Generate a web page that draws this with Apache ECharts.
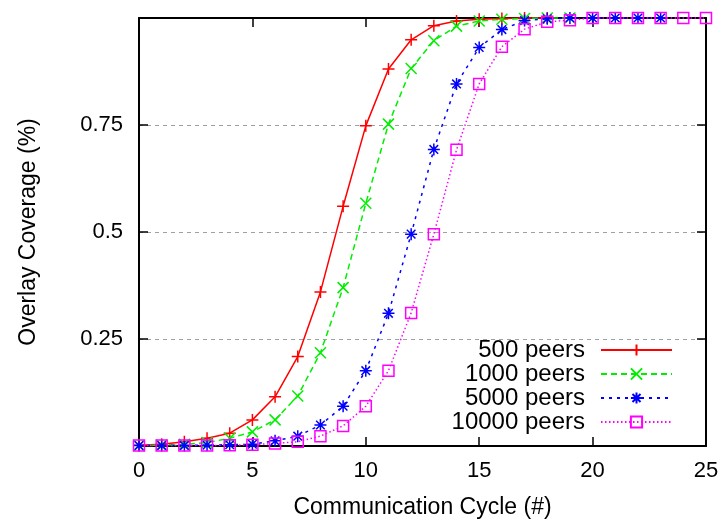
<!DOCTYPE html>
<html>
<head>
<meta charset="utf-8">
<script src="https://cdn.jsdelivr.net/npm/echarts@6/dist/echarts.min.js"></script>
<style>
  html, body { margin: 0; padding: 0; background: #fff; }
  #chart { width: 720px; height: 520px; }
</style>
</head>
<body>
<div id="chart"></div>
<script>
// communication cycles (x) and overlay coverage per network size
var cycles = [0, 1, 2, 3, 4, 5, 6, 7, 8, 9, 10, 11, 12, 13, 14, 15, 16, 17, 18, 19, 20, 21, 22, 23, 24, 25];
var peers500 = [0.002, 0.004, 0.01, 0.018, 0.03, 0.061, 0.115, 0.209, 0.36, 0.56, 0.748, 0.881, 0.949, 0.982, 0.993, 0.997, 0.999, 1, 1];
var peers1000 = [0.001, 0.002, 0.004, 0.008, 0.018, 0.033, 0.061, 0.117, 0.218, 0.37, 0.567, 0.752, 0.882, 0.947, 0.981, 0.993, 0.997, 0.999, 1, 1];
var peers5000 = [0.001, 0.001, 0.001, 0.002, 0.003, 0.004, 0.012, 0.023, 0.049, 0.093, 0.176, 0.31, 0.495, 0.693, 0.846, 0.931, 0.973, 0.994, 0.998, 1, 1, 1, 1, 1];
var peers10000 = [0.001, 0.001, 0.001, 0.001, 0.002, 0.003, 0.006, 0.01, 0.023, 0.047, 0.093, 0.176, 0.311, 0.495, 0.692, 0.846, 0.933, 0.974, 0.991, 0.995, 1, 1, 1, 1, 1, 1];
var names = ['500 peers', '1000 peers', '5000 peers', '10000 peers'];
var yTicks = [0.25, 0.5, 0.75];

var font = 'Liberation Sans';

function pairs(ys) {
    var out = [];
    for (var i = 0; i < ys.length; i++) {
        out.push([cycles[i], ys[i]]);
    }
    return out;
}

var symPlus = 'path://M0,-6L0,6M-6,0L6,0';
var symCross = 'path://M-6,-6L6,6M-6,6L6,-6';
var symStar = 'path://M0,-6L0,6M-6,0L6,0M-4.3,-4.3L4.3,4.3M-4.3,4.3L4.3,-4.3';

function makeSeries(name, ys, color, symbol, size, dash) {
    return {
        name: name,
        type: 'line',
        data: pairs(ys),
        clip: false,
        symbol: symbol,
        symbolSize: size,
        showAllSymbol: true,
        lineStyle: { color: color, width: 1.5, type: dash },
        itemStyle: { color: 'rgba(0,0,0,0)', borderColor: color, borderWidth: 1.5 },
        emphasis: { disabled: true },
        animation: false
    };
}

var tickStyle = { show: true, inside: true, length: 9, lineStyle: { color: '#000', width: 1.5 } };
var lineStyleAxis = { show: true, onZero: false, lineStyle: { color: '#000', width: 2 } };

var option = {
    backgroundColor: '#fff',
    animation: false,
    grid: { left: 139, right: 14, top: 18, bottom: 74, outerBoundsMode: 'none', containLabel: false },
    legend: {
        orient: 'vertical',
        right: 47,
        top: 338,
        padding: 0,
        align: 'right',
        itemWidth: 71,
        itemHeight: 14,
        itemGap: 0,
        data: names,
        textStyle: { fontFamily: font, fontSize: 24, color: '#000', lineHeight: 24, padding: [0, 11, 0, 0] }
    },
    xAxis: [
        {
            type: 'value', min: 0, max: 25, interval: 5,
            name: 'Communication Cycle (#)',
            nameLocation: 'middle',
            nameGap: 50,
            nameTextStyle: { fontFamily: font, fontSize: 23, color: '#000' },
            axisLine: lineStyleAxis,
            axisTick: tickStyle,
            axisLabel: { fontFamily: font, fontSize: 22, color: '#000', margin: 14 },
            splitLine: { show: false }
        },
        {
            type: 'value', min: 0, max: 25, interval: 5, position: 'top',
            axisLine: lineStyleAxis,
            axisTick: tickStyle,
            axisLabel: { show: false },
            splitLine: { show: false }
        }
    ],
    yAxis: [
        {
            type: 'value', min: 0, max: 1, interval: 0.25,
            name: 'Overlay Coverage (%)',
            nameLocation: 'middle',
            nameGap: 99,
            nameTextStyle: { fontFamily: font, fontSize: 23, color: '#000' },
            axisLine: lineStyleAxis,
            axisTick: tickStyle,
            axisLabel: {
                fontFamily: font, fontSize: 22, color: '#000', margin: 16,
                formatter: function (v) {
                    return yTicks.indexOf(v) >= 0 ? String(v) : '';
                }
            },
            splitLine: { show: true, lineStyle: { color: '#a0a0a0', width: 1, type: [4, 4] } }
        },
        {
            type: 'value', min: 0, max: 1, interval: 0.25, position: 'right',
            axisLine: lineStyleAxis,
            axisTick: tickStyle,
            axisLabel: { show: false },
            splitLine: { show: false }
        }
    ],
    series: [
        makeSeries(names[0], peers500, '#ff0000', symPlus, 12, 'solid'),
        makeSeries(names[1], peers1000, '#00ee00', symCross, 11, [6, 4]),
        makeSeries(names[2], peers5000, '#0000ff', symStar, 12, [3, 5]),
        makeSeries(names[3], peers10000, '#ff00ff', 'rect', 11, [1.5, 2.5])
    ]
};

var myChart = echarts.init(document.getElementById('chart'));
myChart.setOption(option);
</script>
</body>
</html>
